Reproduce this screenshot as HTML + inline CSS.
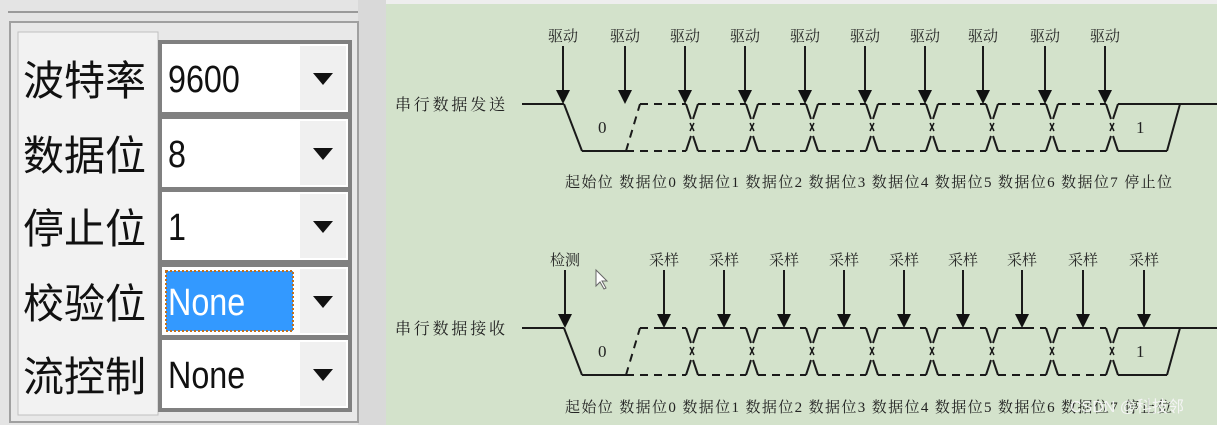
<!DOCTYPE html>
<html><head><meta charset="utf-8"><style>
body{margin:0;width:1217px;height:425px;overflow:hidden;background:#eeeeee;font-family:"Liberation Sans","Noto Sans CJK SC",sans-serif;}
svg{position:absolute;left:0;top:0}
</style></head><body>
<svg id="s" width="1217" height="425" xmlns="http://www.w3.org/2000/svg">
<rect x="0" y="0" width="386" height="425" fill="#d9d9d9"/>
<rect x="0" y="0" width="358" height="425" fill="#e4e4e4"/>
<line x1="8" y1="12" x2="358" y2="12" stroke="#9a9a9a" stroke-width="2"/>
<rect x="10" y="22" width="348" height="400" fill="#e8e8e8" stroke="#a0a0a0" stroke-width="2"/>
<rect x="18" y="32" width="140" height="383" fill="#f2f2f2" stroke="#c0c0c0"/>
<rect x="386" y="4" width="831" height="421" fill="#d3e2cb"/>
<g id="g" font-family="'Liberation Serif','Noto Serif CJK SC',serif" font-size="14" fill="#222"></g>
</svg>
<script>
const g=document.getElementById('g');const ns='http://www.w3.org/2000/svg';
function el(t,a,txt){const e=document.createElementNS(ns,t);for(const k in a)e.setAttribute(k,a[k]);if(txt!==undefined)e.textContent=txt;g.appendChild(e);return e;}
function ln(x1,y1,x2,y2,d){el('line',{x1,y1,x2,y2,stroke:'#1a1a1a','stroke-width':2,'stroke-dasharray':d?'8,6':'none'});}
const labels=['波特率','数据位','停止位','校验位','流控制'],vals=['9600','8','1','None','None'];
const ys=[42,117,190,265,338];
for(let i=0;i<5;i++){const y=ys[i];
 el('text',{x:23,y:y+53,'font-size':41,'font-family':"'Noto Sans CJK SC',sans-serif",fill:'#111'},labels[i]);
 el('rect',{x:160,y:y,width:190,height:72,fill:'#fff',stroke:'#808080','stroke-width':4});
 el('rect',{x:300,y:y+4,width:46,height:64,fill:'#f0f0f0'});
 el('polygon',{points:`${313},${y+31} ${333},${y+31} ${323},${y+43}`,fill:'#111'});
 if(i==3){el('rect',{x:166,y:y+6,width:127,height:60,fill:'#3399ff',stroke:'#c07020','stroke-width':2,'stroke-dasharray':'2,2'});}
 el('text',{x:0,y:0,transform:`translate(168,${y+50}) scale(0.85,1)`,'font-size':38,'font-family':"'Liberation Sans',sans-serif",fill:i==3?'#fff':'#111'},vals[i]);
}
function diagram(yT,label,arrows,arrowLabels,labY,tick){
 const yB=yT+47,yM=yT+23;
 el('text',{x:395,y:yT+6,'font-size':16,textLength:110,lengthAdjust:'spacing'},label);
 ln(522,yT,564,yT);ln(564,yT,582,yB);ln(582,yB,626,yB);
 el('text',{x:598,y:yM+6,'font-size':17},'0');
 ln(626,yB,640,yT,true);
 const cx=[692,752,812,872,932,992,1052,1112];
 let prevT=640,prevB=626;
 for(const c of cx){
  ln(prevT,yT,c-6,yT,true);ln(prevB,yB,c-6,yB,true);
  ln(c-6,yT,c-1,yT+15);ln(c+6,yT,c+1,yT+15);
  ln(c-6,yB,c-1,yB-15);ln(c+6,yB,c+1,yB-15);
  el('line',{x1:c-2,y1:yM-4,x2:c+2,y2:yM+4,stroke:'#1a1a1a','stroke-width':1.5});
  el('line',{x1:c+2,y1:yM-4,x2:c-2,y2:yM+4,stroke:'#1a1a1a','stroke-width':1.5});
  prevT=c+6;prevB=c+6;}
 ln(1118,yT,1217,yT);ln(1118,yB,1167,yB);ln(1180,yT,1167,yB);
 el('text',{x:1136,y:yM+6,'font-size':17},'1');
 arrows.forEach((x,i)=>{ln(x,yT-58,x,yT-10);el('polygon',{points:`${x-7},${yT-14} ${x+7},${yT-14} ${x},${yT}`,fill:'#111'});
  if(tick&&i>0)ln(x-6,yT,x+6,yT);
  el('text',{x:x,y:yT-63,'text-anchor':'middle','font-size':15,'font-family':"'Noto Serif CJK SC',serif"},arrowLabels[i]);});
 el('text',{x:565,y:labY,'font-size':15,textLength:607,lengthAdjust:'spacing','font-family':"'Liberation Serif','Noto Serif CJK SC',serif"},'起始位 数据位0 数据位1 数据位2 数据位3 数据位4 数据位5 数据位6 数据位7 停止位');
}
diagram(104,'串行数据发送',[563,625,685,745,805,865,925,983,1045,1105],Array(10).fill('驱动'),187,false);
diagram(328,'串行数据接收',[565,664,724,784,844,904,963,1022,1083,1144],['检测'].concat(Array(9).fill('采样')),412,true);
el('text',{x:1070,y:412,'font-size':16,fill:'#f4f4f4','font-family':"'Liberation Sans','Noto Sans CJK SC',sans-serif"},'CSDN @科技邻');
el('polygon',{points:'596,270 596,286 600,282 604,289 606,288 602,281 607,281',fill:'#fff',stroke:'#666','stroke-width':1});
</script>
</body></html>
